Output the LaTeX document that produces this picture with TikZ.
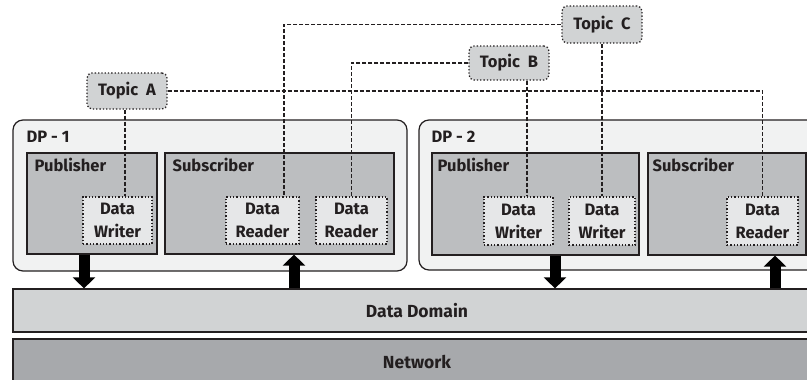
\documentclass[tikz,border=0pt]{standalone}
\usepackage{fontspec}
\setmainfont{Fira Sans}
\usetikzlibrary{arrows.meta}
\definecolor{edge}{HTML}{231F20}
\definecolor{txt}{HTML}{231F20}
\definecolor{dpfill}{HTML}{F1F2F2}
\definecolor{grpfill}{HTML}{BCBEC0}
\definecolor{entfill}{HTML}{E6E7E8}
\definecolor{topfill}{HTML}{D1D3D4}
\definecolor{domfill}{HTML}{D1D3D4}
\definecolor{netfill}{HTML}{A7A9AC}
\begin{document}
\begin{tikzpicture}[x=1pt,y=-1pt,
  every node/.style={font=\bfseries\fontsize{16.5}{23}\selectfont, text=txt},
  dpbox/.style={draw=edge, line width=1.2pt, fill=dpfill, rounded corners=10pt, inner sep=0pt},
  grpbox/.style={draw=edge, line width=1.2pt, fill=grpfill, inner sep=0pt},
  entbox/.style={draw=edge, line width=1.3pt, dotted, fill=entfill, inner sep=0pt, align=center},
  topicbox/.style={draw=edge, line width=1.3pt, dotted, fill=topfill, rounded corners=5pt, inner sep=0pt},
  layerbox/.style={draw=edge, line width=1.2pt, inner sep=0pt, font=\bfseries\fontsize{17.5}{23}\selectfont},
  link/.style={draw=edge, line width=1.1pt, dash pattern=on 4pt off 2pt},
  bigarrow/.style={line width=11pt, draw=black, -{Triangle[width=22pt,length=11pt]}},
  lbl/.style={anchor=base west, inner sep=0pt}
]
\useasboundingbox (0,0) rectangle (807,380);
\clip (0,0) rectangle (807,380);

% participant boxes
\node[dpbox, minimum width=394, minimum height=151] (dp1) at (210,195.5) {};
\node[dpbox, minimum width=412, minimum height=150] (dp2) at (625,195) {};
\node[lbl] at ([shift={(14,23)}]dp1.north west) {DP - 1};
\node[lbl] at ([shift={(13,23)}]dp2.north west) {DP - 2};

% publisher / subscriber groups
\node[grpbox, minimum width=130, minimum height=101] (pub1) at (92,203.5) {};
\node[grpbox, minimum width=229, minimum height=101] (sub1) at (279.5,203.5) {};
\node[grpbox, minimum width=207, minimum height=102] (pub2) at (535.5,204) {};
\node[grpbox, minimum width=158, minimum height=102] (sub2) at (727,204) {};
\node[lbl] at ([shift={(8,19)}]pub1.north west) {Publisher};
\node[lbl] at ([shift={(8,19)}]sub1.north west) {Subscriber};
\node[lbl] at ([shift={(6,19)}]pub2.north west) {Publisher};
\node[lbl] at ([shift={(5,19)}]sub2.north west) {Subscriber};

% entities
\node[entbox, minimum width=69, minimum height=47] (dw1) at (117.5,220.5) {Data\\Writer};
\node[entbox, minimum width=73, minimum height=47] (dr1) at (262.5,220.5) {Data\\Reader};
\node[entbox, minimum width=71, minimum height=47] (dr2) at (351.5,220.5) {Data\\Reader};
\node[entbox, minimum width=69, minimum height=48] (dw3) at (518.5,221) {Data\\Writer};
\node[entbox, minimum width=66, minimum height=48] (dw4) at (602,221) {Data\\Writer};
\node[entbox, minimum width=71, minimum height=48] (dr3) at (762.5,221) {Data\\Reader};

% topics
\node[topicbox, minimum width=80, minimum height=36] (ta) at (127,91) {Topic~~A};
\node[topicbox, minimum width=80, minimum height=34] (tb) at (509,63) {Topic~~B};
\node[topicbox, minimum width=80, minimum height=37] (tc) at (602,24.5) {Topic~~C};

% layers
\node[layerbox, fill=domfill, minimum width=808, minimum height=43] (dom) at (417,310.5) {Data Domain};
\node[layerbox, fill=netfill, minimum width=808, minimum height=46] (net) at (417,362) {Network};

% topic links
\draw[link] ([xshift=-2]ta.south) -- ([xshift=-2]ta.south |- dw1.north);
\draw[link] (ta.east) -| (dr3.north);
\draw[link] (tb.west) -| (dr2.north);
\draw[link] (tc.west) -| ([xshift=21.5]dr1.north);
\draw[link] ([xshift=18]tb.south) -- ([xshift=18]tb.south |- dw3.north);
\draw[link] (tc.south) -- (dw4.north);

% data flow arrows
\draw[bigarrow] ([xshift=-8]pub1.south) -- ([xshift=-8]pub1.south |- dom.north);
\draw[bigarrow] ([xshift=14.5]sub1.south |- dom.north) -- ([xshift=14.5]sub1.south);
\draw[bigarrow] ([xshift=19.5]pub2.south) -- ([xshift=19.5]pub2.south |- dom.north);
\draw[bigarrow] ([xshift=48]sub2.south |- dom.north) -- ([xshift=48]sub2.south);
\end{tikzpicture}
\end{document}
